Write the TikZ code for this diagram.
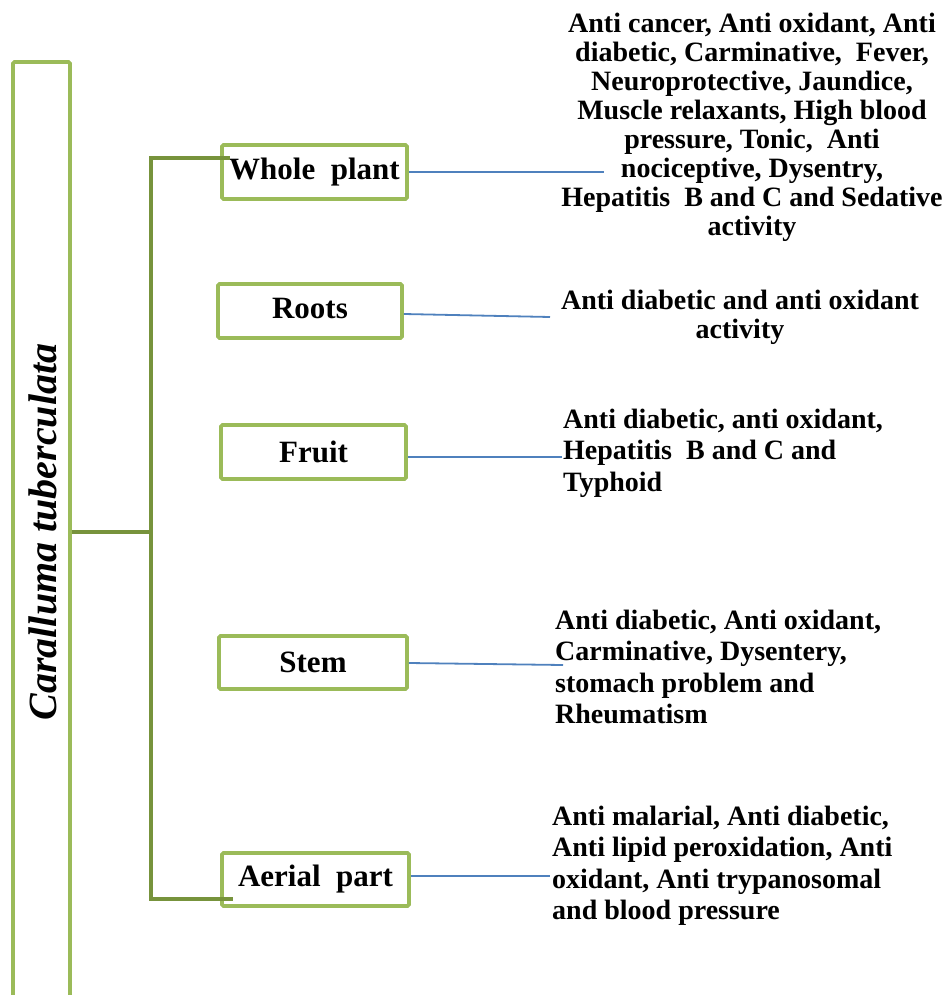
\documentclass[tikz,border=0pt]{standalone}
\usepackage{fontspec}
\setmainfont{Liberation Serif}
\definecolor{boxgreen}{HTML}{9BBB59}
\definecolor{brgreen}{HTML}{77933C}
\definecolor{lineblue}{HTML}{4F81BD}
\begin{document}
\begin{tikzpicture}[x=1pt,y=-1pt,
  partbox/.style={draw=boxgreen,line width=3.8pt,rounded corners=1.5pt,fill=white,
     minimum width=185pt,minimum height=54pt,inner sep=0pt,
     font=\fontsize{31}{34}\selectfont\bfseries},
  mainbox/.style={draw=boxgreen,line width=3.8pt,rounded corners=1.5pt,
     minimum width=57pt,minimum height=960pt,inner sep=0pt},
  bracket/.style={draw=brgreen,line width=3.8pt},
  bluelink/.style={draw=lineblue,line width=1.8pt},
  desc/.style={inner sep=0pt,font=\fontsize{28}{29}\selectfont\bfseries},
  descw/.style={inner sep=0pt,anchor=west,align=left,font=\fontsize{28}{31.5}\selectfont\bfseries}]
\useasboundingbox (0,0) rectangle (942,995);
\clip (0,0) rectangle (942,995);
% main box
\node[mainbox] (main) at (41.5,542) {};
\node[rotate=90,font=\fontsize{40}{42}\selectfont\bfseries\itshape] (title) at (43,532) {Caralluma tuberculata};
% part boxes
\node[partbox] (wp) at (314.5,172) {Whole~ plant};
\node[partbox,minimum width=184pt] (ro) at (310,311) {\raisebox{6pt}{Roots}};
\node[partbox] (fr) at (313.5,452) {\raisebox{-4pt}{Fruit}};
\node[partbox,minimum width=188pt,minimum height=53pt] (st) at (313,662.5) {\raisebox{-3pt}{Stem}};
\node[partbox,minimum width=187pt,minimum height=53pt] (ap) at (315.5,879.5) {\raisebox{-3pt}{Aerial~ part}};
% bracket coordinates
\coordinate (bm) at (151,532);
\coordinate (bt) at (151,158);
\coordinate (bb) at (151,899);
\coordinate (tj) at (230,158);
\coordinate (bj) at (233,899);
\draw[bracket] (main.east |- bm) -- (bm);
\draw[bracket] (tj) -- (bt) -- (bb) -- (bj);
% link ends
\coordinate (wpe) at (604,172);
\coordinate (roe) at (550,317);
\coordinate (fre) at (562,457);
\coordinate (ste) at (563,665);
\coordinate (ape) at (550,876);
\draw[bluelink] (wp.east) -- (wpe);
\draw[bluelink] (ro.east |- 0,314) -- (roe);
\draw[bluelink] (fr.east |- 0,457) -- (fre);
\draw[bluelink] (st.east |- 0,663) -- (ste);
\draw[bluelink] (ap.east |- 0,876) -- (ape);
% descriptions
\node[desc,align=center] (wpd) at (752,127) {Anti cancer, Anti oxidant, Anti\\ diabetic, Carminative,~ Fever,\\ Neuroprotective, Jaundice,\\ Muscle relaxants, High blood\\ pressure, Tonic,~ Anti\\ nociceptive, Dysentry,\\ Hepatitis~ B and C and Sedative\\ activity};
\node[desc,align=center] (rod) at (740,317) {Anti diabetic and anti oxidant\\ activity};
\node[descw] (frd) at (563,453) {Anti diabetic, anti oxidant,\\ Hepatitis~ B and C and\\ Typhoid};
\node[descw] (std) at (555,667) {Anti diabetic, Anti oxidant,\\ Carminative, Dysentery,\\ stomach problem and\\ Rheumatism};
\node[descw] (apd) at (552,866) {Anti malarial, Anti diabetic,\\ Anti lipid peroxidation, Anti\\ oxidant, Anti trypanosomal\\ and blood pressure};
\end{tikzpicture}
\end{document}
